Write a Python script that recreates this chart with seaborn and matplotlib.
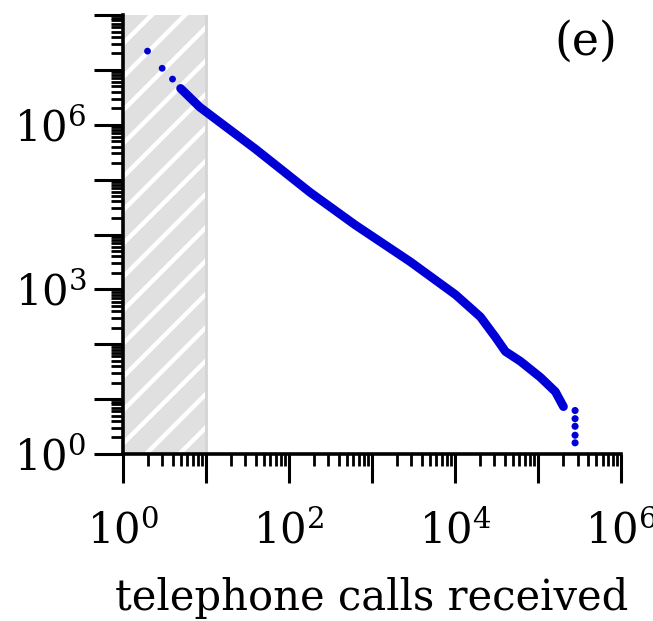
import numpy as np
import pandas as pd
import matplotlib
matplotlib.use("Agg")
import matplotlib.pyplot as plt
import seaborn as sns
from matplotlib.ticker import FixedLocator, LogLocator, NullFormatter

# Discrete points at the smallest call counts
calls_head = [2, 3, 4, 5]
count_head = [2.2e7, 1.07e7, 6.8e6, 4.6e6]

# Dense part of the distribution
calls_body = [5, 8.5, 40, 180, 630, 2900, 1.02e4, 2.03e4, 3.08e4, 4.06e4,
              6.15e4, 1.07e5, 1.62e5, 2.03e5]
count_body = [4.6e6, 2.1e6, 3.6e5, 5.9e4, 1.5e4, 3.2e3, 800, 316, 135, 74,
              49, 25, 13.7, 7.3]

# Last column of points at the largest call count
calls_tail = [2.8e5, 2.8e5, 2.8e5, 2.8e5, 2.8e5]
count_tail = [6.2, 4.4, 3.2, 2.2, 1.6]

# Range below the fitted lower cutoff
excluded_range = (1, 10)

x_ticks = [1e0, 1e1, 1e2, 1e3, 1e4, 1e5, 1e6]
x_tick_labels = ["$10^{0}$", "", "$10^{2}$", "", "$10^{4}$", "", "$10^{6}$"]
y_ticks = [1e0, 1e1, 1e2, 1e3, 1e4, 1e5, 1e6, 1e7, 1e8]
y_tick_labels = ["$10^{0}$", "", "", "$10^{3}$", "", "", "$10^{6}$", "", ""]

panel_label = "(e)"
x_label = "telephone calls received"

blue = "#0000d6"

sns.set_style("ticks")
plt.rcParams["font.family"] = ["DejaVu Serif"]
plt.rcParams["mathtext.fontset"] = "dejavuserif"
plt.rcParams["hatch.linewidth"] = 3.2
for key in ("text.color", "axes.labelcolor", "xtick.color", "ytick.color"):
    plt.rcParams[key] = "black"

fig = plt.figure(figsize=(6.53, 6.21), dpi=100)
ax = fig.add_axes([0.1876, 0.2689, 0.7634, 0.7069])
ax.set_xscale("log")
ax.set_yscale("log")

# Shaded, hatched band for the excluded range
ax.axvspan(*excluded_range, facecolor="#e0e0e0", edgecolor="white",
           hatch="/", linewidth=0, zorder=0)
ax.axvline(excluded_range[1], color="#d4d4d4", lw=2, zorder=0.5)

head = pd.DataFrame({"calls": calls_head, "count": count_head})
body = pd.DataFrame({"calls": calls_body, "count": count_body})
tail = pd.DataFrame({"calls": calls_tail, "count": count_tail})

sns.lineplot(data=body, x="calls", y="count", ax=ax, color=blue, lw=6.3,
             sort=False, estimator=None, solid_capstyle="round",
             solid_joinstyle="round", zorder=3)
sns.scatterplot(data=head, x="calls", y="count", ax=ax, color=blue, s=24,
                edgecolor="none", zorder=3)
sns.scatterplot(data=tail, x="calls", y="count", ax=ax, color=blue, s=26,
                edgecolor="none", zorder=3)

ax.set_xlim(1, 1e6)
ax.set_ylim(1, 1e8)

ax.xaxis.set_major_locator(FixedLocator(x_ticks))
ax.set_xticklabels(x_tick_labels)
ax.yaxis.set_major_locator(FixedLocator(y_ticks))
ax.set_yticklabels(y_tick_labels)
for axis in (ax.xaxis, ax.yaxis):
    axis.set_minor_locator(LogLocator(base=10, subs=np.arange(2, 10), numticks=100))
    axis.set_minor_formatter(NullFormatter())

ax.tick_params(which="major", direction="out", length=21, width=2.2,
               labelsize=30)
ax.tick_params(axis="y", which="major", pad=5)
ax.tick_params(axis="x", which="major", pad=20)
ax.tick_params(which="minor", direction="out", length=8.5, width=2.0)

sns.despine(ax=ax)
for side in ("left", "bottom"):
    ax.spines[side].set_linewidth(2.6)
    ax.spines[side].set_color("black")
    ax.spines[side].set_zorder(4)

ax.set_xlabel(x_label, fontsize=30, labelpad=17)
ax.set_ylabel("")
ax.text(0.93, 0.938, panel_label, transform=ax.transAxes, fontsize=33,
        ha="center", va="center")

fig.savefig("out.png", dpi=100)
